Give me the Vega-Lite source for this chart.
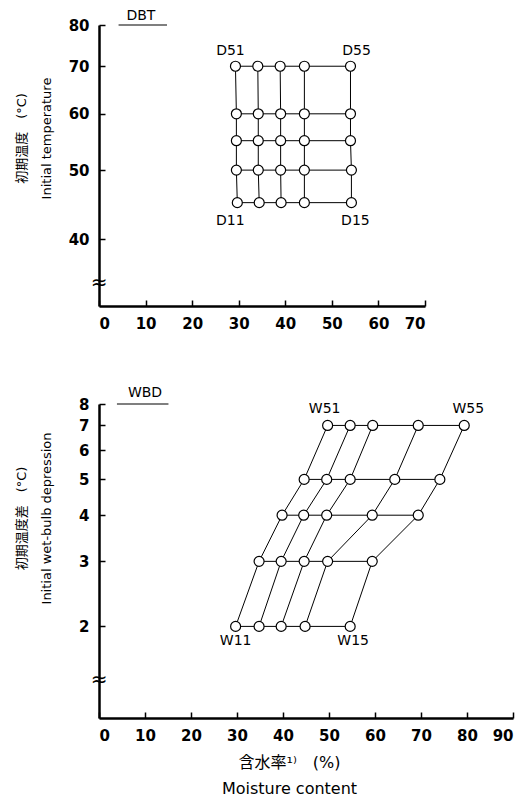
{
  "$schema": "https://vega.github.io/schema/vega-lite/v6.json",
  "padding": {"left": 14, "top": 9, "right": 5, "bottom": 5},
  "background": "white",
  "spacing": 98,
  "bounds": "flush",
  "config": {
    "view": {"stroke": null},
    "font": "DejaVu Sans",
    "axis": {
      "grid": false,
      "domainColor": "black",
      "domainWidth": 2.5,
      "tickColor": "black",
      "tickWidth": 1.5,
      "tickSize": -6,
      "labelFont": "DejaVu Sans",
      "labelFontSize": 15,
      "labelFontWeight": "bold",
      "labelColor": "black",
      "labelPadding": 16,
      "titleFont": "DejaVu Sans, Noto Sans CJK JP",
      "titleFontSize": 13,
      "titleFontWeight": "normal",
      "titleColor": "black",
      "titleLineHeight": 25
    }
  },
  "datasets": {
    "dbt": [
      {"i": 5, "j": 1, "mc": 29.3, "t": 70, "label": "D51"},
      {"i": 5, "j": 2, "mc": 34.1, "t": 70, "label": ""},
      {"i": 5, "j": 3, "mc": 38.9, "t": 70, "label": ""},
      {"i": 5, "j": 4, "mc": 44.1, "t": 70, "label": ""},
      {"i": 5, "j": 5, "mc": 54.0, "t": 70, "label": "D55"},
      {"i": 4, "j": 1, "mc": 29.5, "t": 60, "label": ""},
      {"i": 4, "j": 2, "mc": 34.2, "t": 60, "label": ""},
      {"i": 4, "j": 3, "mc": 39.0, "t": 60, "label": ""},
      {"i": 4, "j": 4, "mc": 44.1, "t": 60, "label": ""},
      {"i": 4, "j": 5, "mc": 54.0, "t": 60, "label": ""},
      {"i": 3, "j": 1, "mc": 29.5, "t": 55, "label": ""},
      {"i": 3, "j": 2, "mc": 34.2, "t": 55, "label": ""},
      {"i": 3, "j": 3, "mc": 39.0, "t": 55, "label": ""},
      {"i": 3, "j": 4, "mc": 44.1, "t": 55, "label": ""},
      {"i": 3, "j": 5, "mc": 54.0, "t": 55, "label": ""},
      {"i": 2, "j": 1, "mc": 29.5, "t": 50, "label": ""},
      {"i": 2, "j": 2, "mc": 34.2, "t": 50, "label": ""},
      {"i": 2, "j": 3, "mc": 39.0, "t": 50, "label": ""},
      {"i": 2, "j": 4, "mc": 44.1, "t": 50, "label": ""},
      {"i": 2, "j": 5, "mc": 54.2, "t": 50, "label": ""},
      {"i": 1, "j": 1, "mc": 29.7, "t": 45, "label": "D11"},
      {"i": 1, "j": 2, "mc": 34.4, "t": 45, "label": ""},
      {"i": 1, "j": 3, "mc": 39.1, "t": 45, "label": ""},
      {"i": 1, "j": 4, "mc": 44.1, "t": 45, "label": ""},
      {"i": 1, "j": 5, "mc": 54.2, "t": 45, "label": "D15"}
    ],
    "wbd": [
      {"i": 5, "j": 1, "mc": 49.7, "w": 7, "label": "W51"},
      {"i": 5, "j": 2, "mc": 54.6, "w": 7, "label": ""},
      {"i": 5, "j": 3, "mc": 59.5, "w": 7, "label": ""},
      {"i": 5, "j": 4, "mc": 69.4, "w": 7, "label": ""},
      {"i": 5, "j": 5, "mc": 79.4, "w": 7, "label": "W55"},
      {"i": 4, "j": 1, "mc": 44.6, "w": 5, "label": ""},
      {"i": 4, "j": 2, "mc": 49.5, "w": 5, "label": ""},
      {"i": 4, "j": 3, "mc": 54.6, "w": 5, "label": ""},
      {"i": 4, "j": 4, "mc": 64.3, "w": 5, "label": ""},
      {"i": 4, "j": 5, "mc": 74.1, "w": 5, "label": ""},
      {"i": 3, "j": 1, "mc": 39.8, "w": 4, "label": ""},
      {"i": 3, "j": 2, "mc": 44.5, "w": 4, "label": ""},
      {"i": 3, "j": 3, "mc": 49.5, "w": 4, "label": ""},
      {"i": 3, "j": 4, "mc": 59.4, "w": 4, "label": ""},
      {"i": 3, "j": 5, "mc": 69.4, "w": 4, "label": ""},
      {"i": 2, "j": 1, "mc": 34.8, "w": 3, "label": ""},
      {"i": 2, "j": 2, "mc": 39.6, "w": 3, "label": ""},
      {"i": 2, "j": 3, "mc": 44.6, "w": 3, "label": ""},
      {"i": 2, "j": 4, "mc": 49.7, "w": 3, "label": ""},
      {"i": 2, "j": 5, "mc": 59.4, "w": 3, "label": ""},
      {"i": 1, "j": 1, "mc": 29.7, "w": 2, "label": "W11"},
      {"i": 1, "j": 2, "mc": 34.8, "w": 2, "label": ""},
      {"i": 1, "j": 3, "mc": 39.6, "w": 2, "label": ""},
      {"i": 1, "j": 4, "mc": 44.8, "w": 2, "label": ""},
      {"i": 1, "j": 5, "mc": 54.6, "w": 2, "label": "W15"}
    ]
  },
  "vconcat": [
    {
      "width": 326,
      "height": 281,
      "layer": [
        {"data": {"name": "dbt"},
         "mark": {"type": "line", "color": "black", "strokeWidth": 1},
         "encoding": {
           "x": {"field": "mc", "type": "quantitative",
                 "scale": {"domain": [0, 70], "nice": false, "zero": false},
                 "axis": {"values": [0, 10, 20, 30, 40, 50, 60, 70], "title": null}},
           "y": {"field": "t", "type": "quantitative",
                 "scale": {"type": "log", "domain": [32.2, 80], "nice": false, "zero": false},
                 "axis": {"values": [40, 50, 60, 70, 80], "format": "d",
                          "title": ["初期温度　(°C)", "Initial temperature"],
                          "titleAngle": -90, "titleBaseline": "middle", "titleX": -78, "titleY": 113}},
           "detail": {"field": "i"}}},
        {"data": {"name": "dbt"},
         "mark": {"type": "line", "color": "black", "strokeWidth": 1},
         "encoding": {
           "x": {"field": "mc", "type": "quantitative"},
           "y": {"field": "t", "type": "quantitative"},
           "detail": {"field": "j"}, "order": {"field": "i"}}},
        {"data": {"name": "dbt"},
         "mark": {"type": "point", "filled": true, "fill": "white", "stroke": "black", "strokeWidth": 1.2, "size": 100, "opacity": 1},
         "encoding": {
           "x": {"field": "mc", "type": "quantitative"},
           "y": {"field": "t", "type": "quantitative"}}},
        {"data": {"name": "dbt"},
         "transform": [{"filter": "datum.label != '' && datum.i == 5 && datum.j == 1"}],
         "mark": {"type": "text", "fontSize": 14, "dy": -15, "dx": -5, "color": "black"},
         "encoding": {
           "x": {"field": "mc", "type": "quantitative"},
           "y": {"field": "t", "type": "quantitative"},
           "text": {"field": "label"}}},
        {"data": {"name": "dbt"},
         "transform": [{"filter": "datum.label != '' && datum.i == 5 && datum.j == 5"}],
         "mark": {"type": "text", "fontSize": 14, "dy": -15, "dx": 6, "color": "black"},
         "encoding": {
           "x": {"field": "mc", "type": "quantitative"},
           "y": {"field": "t", "type": "quantitative"},
           "text": {"field": "label"}}},
        {"data": {"name": "dbt"},
         "transform": [{"filter": "datum.label != '' && datum.i == 1 && datum.j == 1"}],
         "mark": {"type": "text", "fontSize": 14, "dy": 18, "dx": -7, "color": "black"},
         "encoding": {
           "x": {"field": "mc", "type": "quantitative"},
           "y": {"field": "t", "type": "quantitative"},
           "text": {"field": "label"}}},
        {"data": {"name": "dbt"},
         "transform": [{"filter": "datum.label != '' && datum.i == 1 && datum.j == 5"}],
         "mark": {"type": "text", "fontSize": 14, "dy": 18, "dx": 4, "color": "black"},
         "encoding": {
           "x": {"field": "mc", "type": "quantitative"},
           "y": {"field": "t", "type": "quantitative"},
           "text": {"field": "label"}}},
        {"data": {"values": [{}]},
         "mark": {"type": "text", "fontSize": 14, "baseline": "alphabetic", "dy": -5, "color": "black"},
         "encoding": {"x": {"datum": 9, "type": "quantitative"},
                      "y": {"datum": 80, "type": "quantitative"},
                      "text": {"value": "DBT"}}},
        {"data": {"values": [{}]},
         "mark": {"type": "rule", "color": "black", "strokeWidth": 1.2},
         "encoding": {"x": {"datum": 4.2, "type": "quantitative"},
                      "x2": {"datum": 14.6},
                      "y": {"datum": 80, "type": "quantitative"}}},
        {"data": {"values": [{}]},
         "mark": {"type": "text", "fontSize": 20, "color": "black"},
         "encoding": {"x": {"datum": 0, "type": "quantitative"},
                      "y": {"datum": 34.7, "type": "quantitative"},
                      "text": {"value": "≈"}}}
      ]
    },
    {
      "width": 414,
      "height": 314,
      "layer": [
        {"data": {"name": "wbd"},
         "mark": {"type": "line", "color": "black", "strokeWidth": 1},
         "encoding": {
           "x": {"field": "mc", "type": "quantitative",
                 "scale": {"domain": [0, 90], "nice": false, "zero": false},
                 "axis": {"values": [0, 10, 20, 30, 40, 50, 60, 70, 80, 90],
                          "title": ["含水率¹⁾　(%)", "Moisture content"], "titleX": 190, "titlePadding": 11,
                          "titleLineHeight": 26, "titleFontSize": 16}},
           "y": {"field": "w", "type": "quantitative",
                 "scale": {"type": "log", "domain": [1.13, 8], "nice": false, "zero": false},
                 "axis": {"values": [2, 3, 4, 5, 6, 7, 8], "format": "d",
                          "title": ["初期温度差　(°C)", "Initial wet-bulb depression"],
                          "titleAngle": -90, "titleBaseline": "middle", "titleX": -78, "titleY": 114}},
           "detail": {"field": "i"}}},
        {"data": {"name": "wbd"},
         "mark": {"type": "line", "color": "black", "strokeWidth": 1},
         "encoding": {
           "x": {"field": "mc", "type": "quantitative"},
           "y": {"field": "w", "type": "quantitative"},
           "detail": {"field": "j"}, "order": {"field": "i"}}},
        {"data": {"name": "wbd"},
         "mark": {"type": "point", "filled": true, "fill": "white", "stroke": "black", "strokeWidth": 1.2, "size": 100, "opacity": 1},
         "encoding": {
           "x": {"field": "mc", "type": "quantitative"},
           "y": {"field": "w", "type": "quantitative"}}},
        {"data": {"name": "wbd"},
         "transform": [{"filter": "datum.label != '' && datum.i == 5 && datum.j == 1"}],
         "mark": {"type": "text", "fontSize": 14, "dy": -16, "dx": -3, "color": "black"},
         "encoding": {
           "x": {"field": "mc", "type": "quantitative"},
           "y": {"field": "w", "type": "quantitative"},
           "text": {"field": "label"}}},
        {"data": {"name": "wbd"},
         "transform": [{"filter": "datum.label != '' && datum.i == 5 && datum.j == 5"}],
         "mark": {"type": "text", "fontSize": 14, "dy": -16, "dx": 4, "color": "black"},
         "encoding": {
           "x": {"field": "mc", "type": "quantitative"},
           "y": {"field": "w", "type": "quantitative"},
           "text": {"field": "label"}}},
        {"data": {"name": "wbd"},
         "transform": [{"filter": "datum.label != '' && datum.i == 1 && datum.j == 1"}],
         "mark": {"type": "text", "fontSize": 14, "dy": 15, "color": "black"},
         "encoding": {
           "x": {"field": "mc", "type": "quantitative"},
           "y": {"field": "w", "type": "quantitative"},
           "text": {"field": "label"}}},
        {"data": {"name": "wbd"},
         "transform": [{"filter": "datum.label != '' && datum.i == 1 && datum.j == 5"}],
         "mark": {"type": "text", "fontSize": 14, "dy": 15, "dx": 3, "color": "black"},
         "encoding": {
           "x": {"field": "mc", "type": "quantitative"},
           "y": {"field": "w", "type": "quantitative"},
           "text": {"field": "label"}}},
        {"data": {"values": [{}]},
         "mark": {"type": "text", "fontSize": 14, "baseline": "alphabetic", "dy": -7, "color": "black"},
         "encoding": {"x": {"datum": 10, "type": "quantitative"},
                      "y": {"datum": 8, "type": "quantitative"},
                      "text": {"value": "WBD"}}},
        {"data": {"values": [{}]},
         "mark": {"type": "rule", "color": "black", "strokeWidth": 1.2},
         "encoding": {"x": {"datum": 3.9, "type": "quantitative"},
                      "x2": {"datum": 15.1},
                      "y": {"datum": 8, "type": "quantitative"}}},
        {"data": {"values": [{}]},
         "mark": {"type": "text", "fontSize": 20, "color": "black"},
         "encoding": {"x": {"datum": 0, "type": "quantitative"},
                      "y": {"datum": 1.43, "type": "quantitative"},
                      "text": {"value": "≈"}}}
      ]
    }
  ]
}
